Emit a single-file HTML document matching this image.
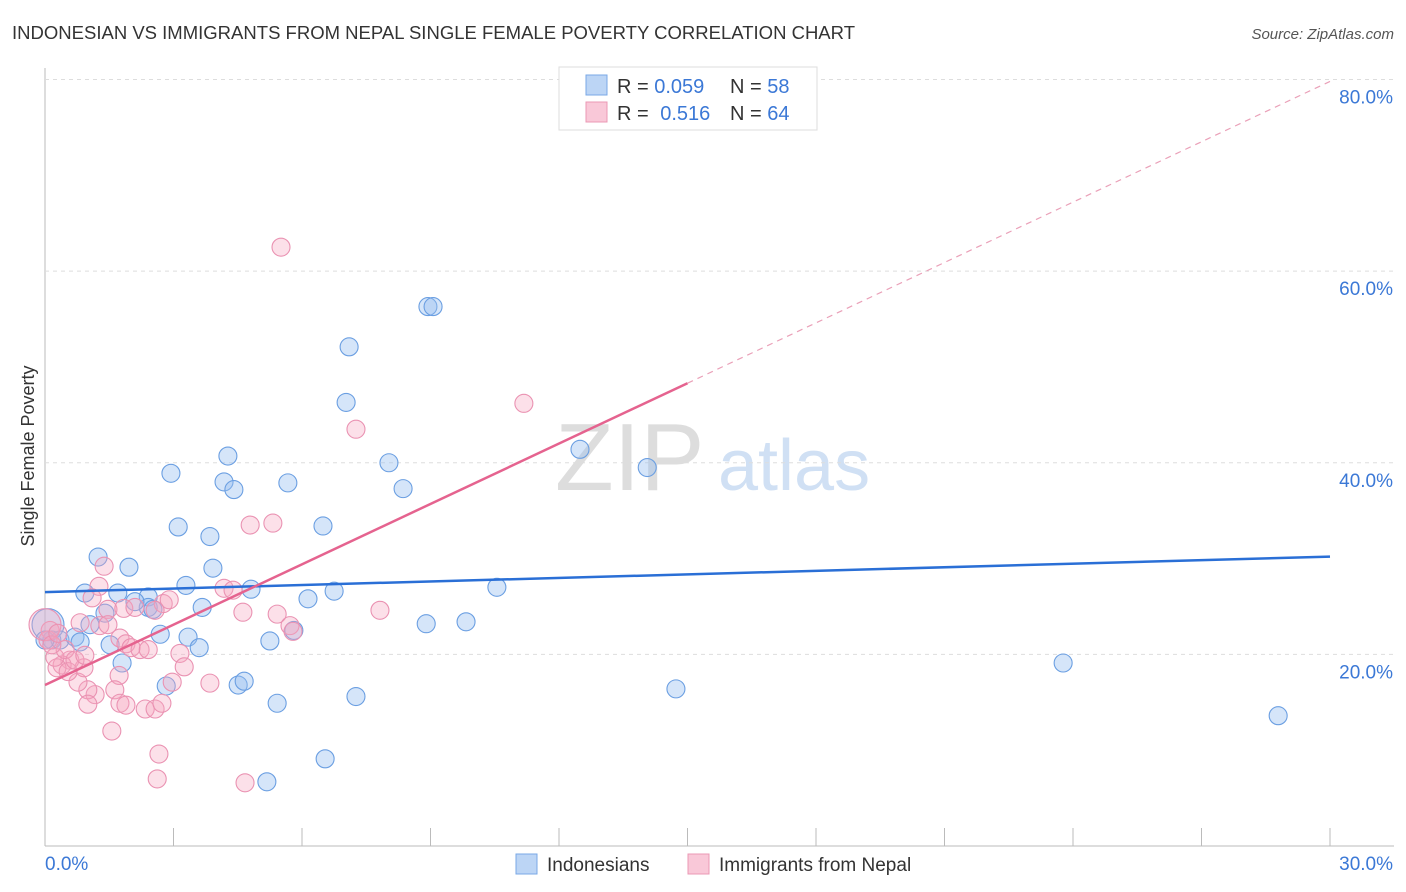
<!DOCTYPE html>
<html><head><meta charset="utf-8"><style>
body{margin:0;background:#fff;font-family:"Liberation Sans",sans-serif;}
#wrap{position:relative;width:1406px;height:892px;overflow:hidden}
svg text{font-family:"Liberation Sans",sans-serif}
</style></head><body><div id="wrap">
<svg id="chart" width="1406" height="892">
<text x="12" y="39" font-size="18" fill="#333" textLength="843" lengthAdjust="spacingAndGlyphs">INDONESIAN VS IMMIGRANTS FROM NEPAL SINGLE FEMALE POVERTY CORRELATION CHART</text>
<text x="1394" y="39" font-size="15" fill="#555" text-anchor="end" font-style="italic">Source: ZipAtlas.com</text>
<text transform="translate(34,456) rotate(-90)" font-size="18" fill="#333" text-anchor="middle">Single Female Poverty</text>
<g><text x="555" y="490" font-size="96" font-family="Liberation Serif" fill="#ddd">ZIP</text><text x="718" y="490" font-size="72" fill="#d0e0f4">atlas</text></g>
<g id="grid"></g><g id="marks"></g><g id="lines"></g>
<g>
<rect x="559" y="67" width="258" height="63" fill="#fff" stroke="#ddd"/>
<rect x="586" y="75" width="21" height="20" fill="#bcd5f5" stroke="#7aa8e6"/>
<rect x="586" y="102" width="21" height="20" fill="#f9c8d8" stroke="#eb98b4"/>
<text x="617" y="93" font-size="20" fill="#333">R = <tspan fill="#3b78d6">0.059</tspan></text>
<text x="730" y="93" font-size="20" fill="#333">N = <tspan fill="#3b78d6">58</tspan></text>
<text x="617" y="120" font-size="20" fill="#333">R = <tspan fill="#3b78d6" dx="6">0.516</tspan></text>
<text x="730" y="120" font-size="20" fill="#333">N = <tspan fill="#3b78d6">64</tspan></text>
</g>
<g>
<rect x="516" y="854" width="21" height="20" fill="#bcd5f5" stroke="#7aa8e6"/>
<text x="547" y="871" font-size="19" fill="#333">Indonesians</text>
<rect x="688" y="854" width="21" height="20" fill="#f9c8d8" stroke="#eb98b4"/>
<text x="719" y="871" font-size="19" fill="#333">Immigrants from Nepal</text>
</g>
</svg></div>
<script>
const xTicksLabels=["0.0%","30.0%"];
const yTicks=[20,40,60,80];
const blueX=[1.24,0.93,1.96,1.70,2.41,2.41,2.52,2.10,1.40,1.05,0.07,0.16,0.35,0.70,0.82,1.52,1.80,2.69,2.83,3.11,2.94,3.29,3.34,3.60,3.67,3.85,3.92,4.18,4.27,4.41,4.51,4.65,4.81,5.25,5.42,5.67,5.81,6.14,6.49,6.54,6.75,7.10,7.03,7.26,5.18,8.03,8.36,8.90,8.94,9.06,9.83,10.55,12.49,14.06,14.73,23.77,28.79,0];
const blueY=[30.16,26.4,29.1,26.4,26.0,24.9,24.7,25.5,24.3,23.1,23.1,21.5,21.5,21.8,21.3,21.0,19.1,22.1,16.7,33.3,38.9,27.2,21.8,20.7,24.9,32.3,29.0,38.0,40.7,37.2,16.8,17.2,26.8,21.4,14.9,37.9,22.5,25.8,33.4,9.1,26.6,52.1,46.3,15.6,6.7,40.0,37.3,23.2,56.3,56.3,23.4,27.0,41.4,39.5,16.4,19.1,13.6,21.5];
const pinkX=[5.51,11.18,7.26,4.79,5.32,1.26,1.38,1.10,1.47,1.84,2.76,2.10,2.57,2.90,4.18,4.39,4.62,5.42,7.82,5.72,5.79,0.82,1.28,1.47,1.75,1.89,2.01,2.22,2.41,3.15,3.25,2.97,3.85,1.73,1.63,1.17,1.00,0.77,0.91,0.58,0.40,0.28,0.54,0.23,0.12,0.07,1.00,1.75,1.89,2.34,2.57,2.73,1.56,2.66,2.62,4.67,0,0.47,0.70,0.93,0.16,0.30];
const pinkY=[62.5,46.2,43.5,33.5,33.7,27.1,29.2,25.9,24.7,24.8,25.3,24.9,24.6,25.7,26.9,26.7,24.4,24.2,24.6,23.0,22.4,23.3,23.0,23.1,21.7,21.1,20.7,20.5,20.5,20.1,18.7,17.1,17.0,17.8,16.3,15.8,16.3,17.1,18.6,19.4,18.9,18.6,18.2,19.7,22.5,21.5,14.8,14.9,14.7,14.3,14.3,14.9,12.0,9.6,7.0,6.6,23.1,20.5,19.4,19.9,21.0,22.2];
const blueTrend=[26.5,30.2];
const pinkTrend=[16.8,79.8];
const NS="http://www.w3.org/2000/svg";
const sx=v=>45+v/30*1285, sy=v=>846-v/80*766.5;
function mk(t,a,p){const e=document.createElementNS(NS,t);for(const k in a)e.setAttribute(k,a[k]);p.appendChild(e);return e;}
const grid=document.getElementById('grid'),marks=document.getElementById('marks'),lines=document.getElementById('lines');
let ax=mk('line',{x1:45,y1:68,x2:45,y2:846,stroke:'#bbb'},grid);


let bx=mk('line',{x1:45,y1:846,x2:1394,y2:846,stroke:'#bbb'},grid);


yTicks.forEach(v=>{const g=mk('line',{x1:45,x2:1394,y1:sy(v),y2:sy(v),stroke:'#ddd','stroke-dasharray':'4,4'},grid);


const t=mk('text',{x:1393,y:sy(v)+24,'font-size':19,fill:'#3b78d6','text-anchor':'end'},grid);t.textContent=v.toFixed(1)+'%';

});
for(let i=0;i<=10;i++){const t=mk('line',{x1:sx(i*3),x2:sx(i*3),y1:828,y2:846,stroke:'#bbb'},grid);

}
[[0,45,'start'],[30,1393,'end']].forEach((d,i)=>{const t=mk('text',{x:d[1],y:870,'font-size':19,fill:'#3b78d6','text-anchor':d[2]},grid);t.textContent=xTicksLabels[i];

});
function pts(X,Y,fill,stroke,name){X.forEach((x,i)=>{const big=(x===0||x===0.07)&&Math.abs(Y[i]-23.1)<0.2;
const c=mk('circle',{cx:sx(x),cy:sy(Y[i]),r:big?16:9,fill:fill,stroke:stroke,'stroke-width':1.1},marks);

});}
pts(blueX,blueY,'rgba(150,190,240,0.4)','#6b9fe2','indonesian-point');
pts(pinkX,pinkY,'rgba(245,165,192,0.35)','#ea92b2','nepal-point');
const bl=mk('line',{x1:sx(0),y1:sy(blueTrend[0]),x2:sx(30),y2:sy(blueTrend[1]),stroke:'#2a6fd6','stroke-width':2.5},lines);


const pAt=x=>pinkTrend[0]+(pinkTrend[1]-pinkTrend[0])*x/30;
const pl=mk('line',{x1:sx(0),y1:sy(pAt(0)),x2:sx(15),y2:sy(pAt(15)),stroke:'#e5638f','stroke-width':2.5},lines);


const pd=mk('line',{x1:sx(15),y1:sy(pAt(15)),x2:sx(30),y2:sy(pAt(30)),stroke:'#eaa0b8','stroke-width':1.2,'stroke-dasharray':'6,5'},lines);


</script></body></html>
